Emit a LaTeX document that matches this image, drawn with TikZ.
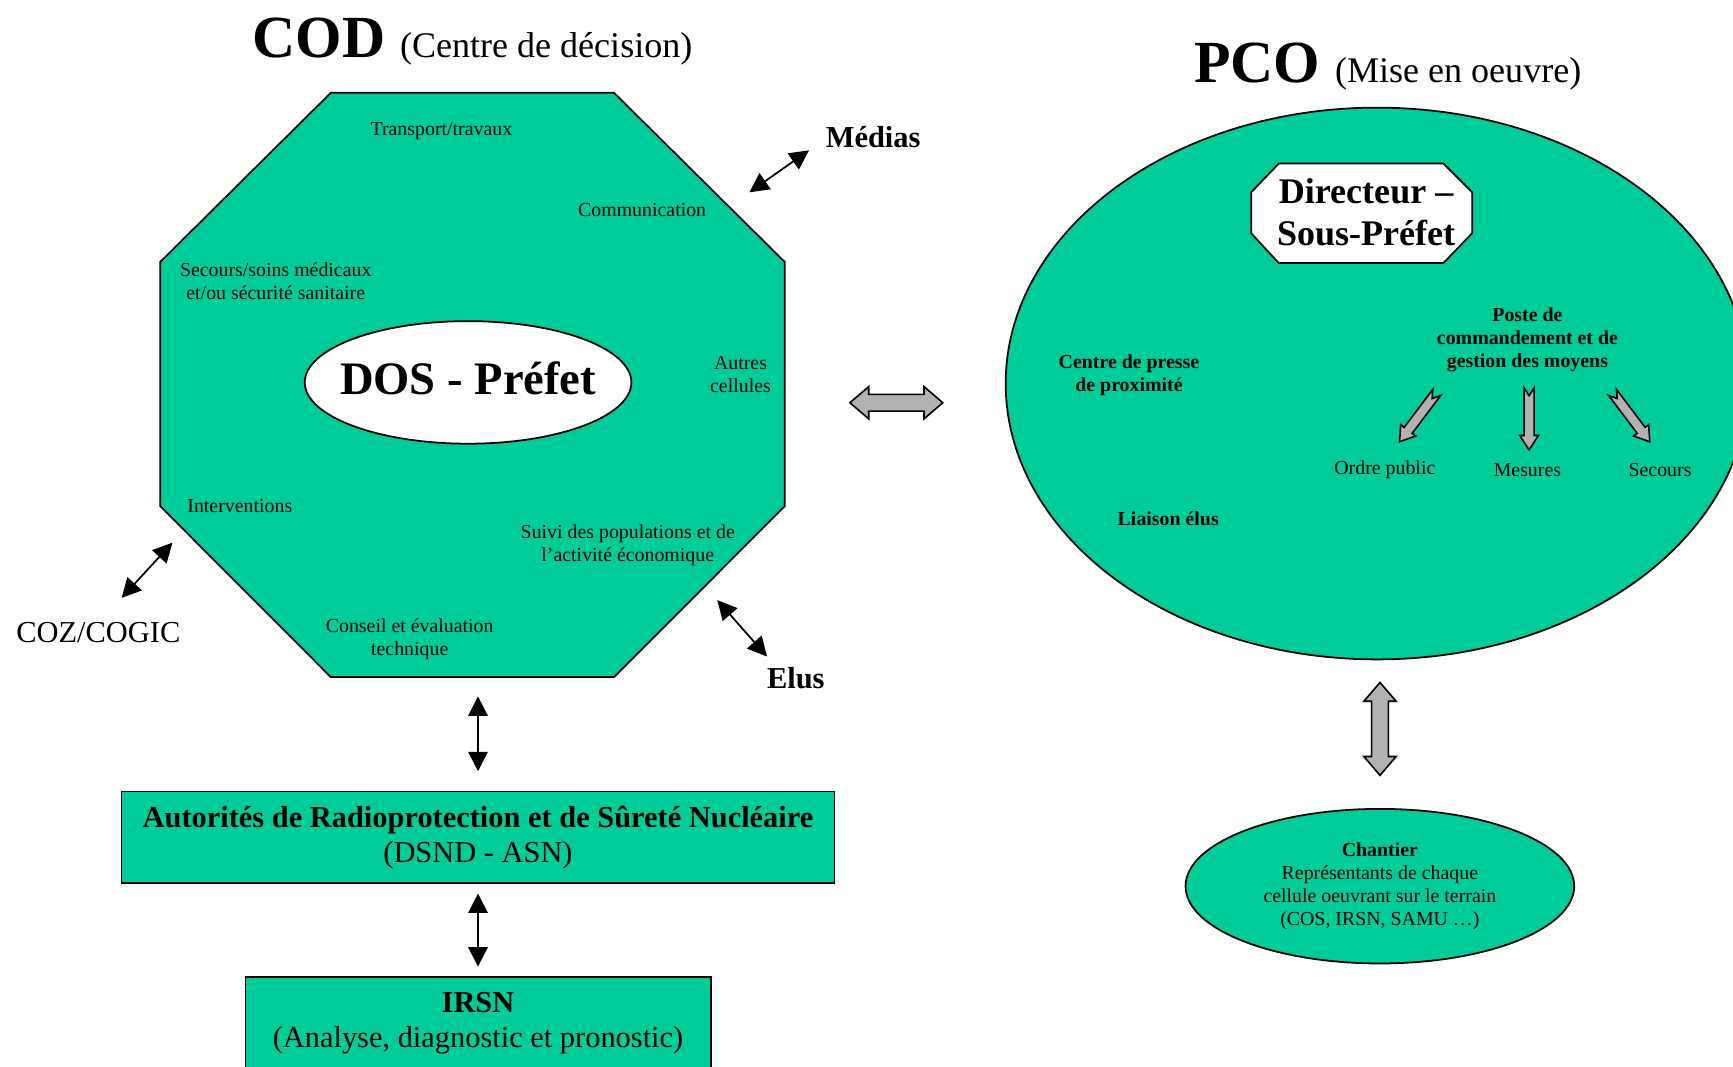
\documentclass[tikz,border=0pt]{standalone}
\usepackage{fontspec}
\setmainfont{Liberation Serif}
\usetikzlibrary{arrows.meta,shapes.geometric}
\definecolor{cellgreen}{RGB}{0,204,153}
\definecolor{arrowgray}{RGB}{178,178,178}
\newcommand{\fsize}[2]{\fontsize{#1}{#2}\selectfont}

\begin{document}
\begin{tikzpicture}[
	x=0.0221cm, y=-0.0221cm,
	cell/.style={font=\fsize{11.3pt}{13.2pt}, align=center},
	cellb/.style={cell, font=\fsize{11.3pt}{13.2pt}\bfseries},
	outer/.style={font=\fsize{17.3pt}{20pt}, align=center},
	outerb/.style={outer, font=\fsize{17.3pt}{20pt}\bfseries},
	heading/.style={anchor=base west, inner sep=0pt},
	greenbox/.style={draw=black, line width=1pt, fill=cellgreen, inner sep=0pt},
	whitebox/.style={draw=black, line width=1pt, fill=white, inner sep=0pt},
	link/.style={draw=black, line width=1pt,
		{Triangle[length=11pt,width=11pt]}-{Triangle[length=11pt,width=11pt]}},
	blockarrow/.style={draw=black, line width=0.9pt, fill=arrowgray},
	twinarrow/.pic={\draw[blockarrow] (-42,0) -- (-25,-14.6) -- (-25,-7.6) -- (25,-7.6)
		-- (25,-14.6) -- (42,0) -- (25,14.6) -- (25,7.6) -- (-25,7.6) -- (-25,14.6) -- cycle;},
	notcharrow/.pic={\draw[blockarrow] (-4.5,0) -- (0,7) -- (4.5,0) -- (4.5,43) -- (8.5,43)
		-- (0,56) -- (-8.5,43) -- (-4.5,43) -- cycle;},
]
\useasboundingbox (0,0) rectangle (1568,965);
\clip (0,0) rectangle (1568,965);

\node[heading] (codtitle) at (228,52) {\fsize{34pt}{34pt}\bfseries COD \fsize{20.5pt}{24pt}\mdseries (Centre de décision)};
\node[heading] (pcotitle) at (1080,75) {\fsize{34pt}{34pt}\bfseries PCO \fsize{20.5pt}{24pt}\mdseries (Mise en oeuvre)};

% COD
\draw[greenbox] (299.3,84) -- (555.6,84) -- (710,237) -- (710,458) -- (555.6,612.6)
	-- (299.3,612.6) -- (145,458) -- (145,237) -- cycle;
\coordinate (cod) at (432.5,612.6);
\node[whitebox, ellipse, minimum width=6.53cm, minimum height=2.45cm,
	label={[font=\fsize{26.5pt}{28pt}\bfseries, yshift=2.5pt]center:DOS - Préfet}] (dos) at (423.5,346) {};
\node[cell] (transp) at (399.4,118.4) {Transport/travaux};
\node[cell] (comm) at (581,190) {Communication};
\node[cell] (secsoins) at (249.5,254.5) {Secours/soins médicaux\\et/ou sécurité sanitaire};
\node[cell] (autres) at (670,339) {Autres\\cellules};
\node[cell] (interv) at (217,457.5) {Interventions};
\node[cell] (suivi) at (568,493) {Suivi des populations et de\\l'activité économique};
\node[cell] (conseil) at (370.7,578) {Conseil et évaluation\\technique};

\node[outerb] (medias) at (790,124) {Médias};
\node[outer] (coz) at (89,572) {COZ/COGIC};
\node[outerb] (elus) at (720,614) {Elus};
\coordinate (medA) at (678,174);
\coordinate (medB) at (732,136);
\coordinate (cozA) at (110,541);
\coordinate (cozB) at (156,491);
\coordinate (eluA) at (649,543);
\coordinate (eluB) at (694,594);
\foreach \a/\b in {medA/medB, cozA/cozB, eluA/eluB}
	\draw[link] (\a) -- (\b);

\node[greenbox, rectangle, minimum width=14.25cm, minimum height=1.83cm,
	outer, align=center] (asn) at (432.5,757.5)
	{\textbf{Autorités de Radioprotection et de Sûreté Nucléaire}\\(DSND - ASN)};
\node[greenbox, rectangle, minimum width=9.30cm, minimum height=1.83cm,
	outer, align=center] (irsn) at (432.5,925.5)
	{\textbf{IRSN}\\(Analyse, diagnostic et pronostic)};
\draw[link, shorten <=11pt, shorten >=11pt] (cod) -- (asn.north);
\draw[link, shorten <=5.5pt, shorten >=5.5pt] (asn.south) -- (irsn.north);

\pic at (811,364.4) {twinarrow};

% PCO
\node[greenbox, ellipse, minimum width=14.85cm, minimum height=11.03cm] (pco) at (1246,347) {};
\draw[whitebox] (1157,148) -- (1306,148) -- (1332,174) -- (1332,211) -- (1306,238)
	-- (1157,238) -- (1132,211) -- (1132,174) -- cycle;
\node[align=center, font=\fsize{20.5pt}{23.5pt}\bfseries] (dir) at (1236,192) {Directeur –\\Sous-Préfet};
\node[cellb] (presse) at (1021.5,339.4) {Centre de presse\\de proximité};
\node[cellb] (liaison) at (1057,469.6) {Liaison élus};
\node[cellb] (poste) at (1382,307.5) {Poste de\\commandement et de\\gestion des moyens};
\foreach \xx/\yy/\r in {1300/355/-37, 1383.5/351/0, 1459/355/37}
	\pic[rotate=\r] at (\xx,\yy) {notcharrow};
\foreach \xx/\t [count=\i] in {1253/Ordre public, 1382/Mesures, 1502/Secours}
	\node[cell] (moyen\i) at (\xx,425) {\t};

\pic[rotate=90] at (1248.6,659.5) {twinarrow};
\node[greenbox, ellipse, minimum width=7.77cm, minimum height=3.09cm, cell] (chantier) at (1248.5,801.8)
	{\textbf{Chantier}\\Représentants de chaque\\cellule oeuvrant sur le terrain\\(COS, IRSN, SAMU …)};
\end{tikzpicture}
\end{document}
